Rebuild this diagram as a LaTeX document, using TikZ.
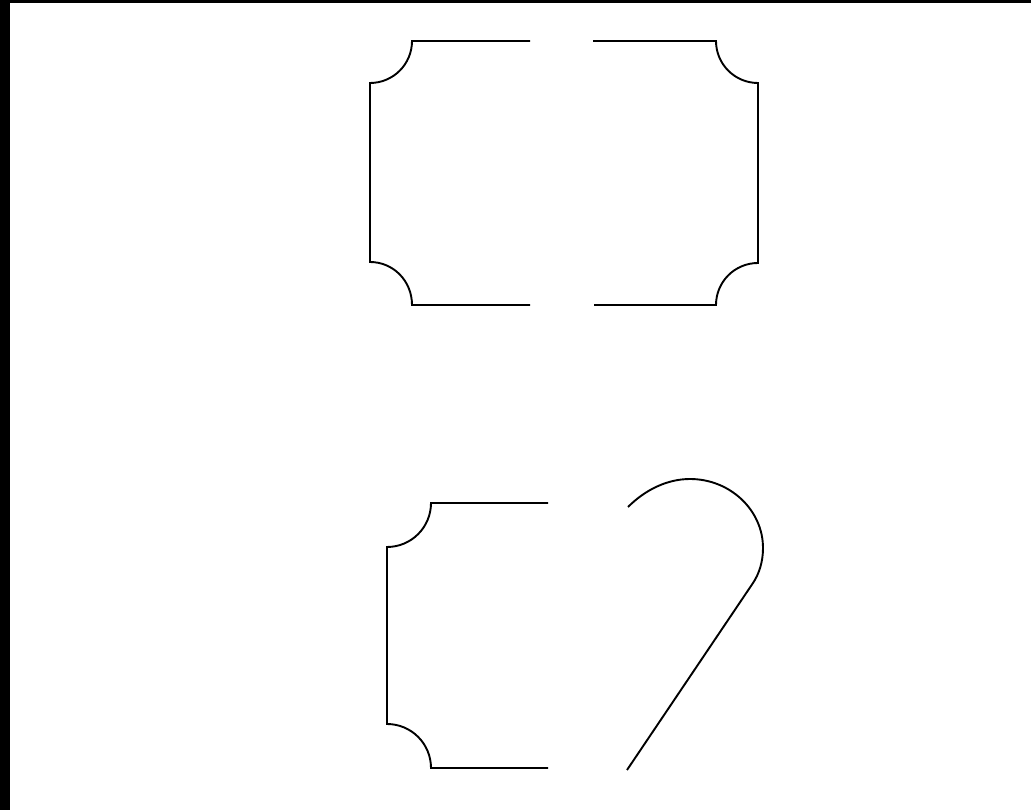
\documentclass[tikz,border=0pt]{standalone}
\begin{document}
\begin{tikzpicture}[x=0.02cm,y=-0.02cm,
  outline/.style={draw=black,line width=0.38mm,line join=miter}]
\useasboundingbox (0,0) rectangle (1031,810);
\fill[white] (0,0) rectangle (1031,810);
\fill[black] (0,0) rectangle (10,810);
\fill[black] (0,0) rectangle (1031,3);
% top frame, left half
\draw[outline] (530,41) -- (412,41) .. controls (412,64.2) and (393.2,83) .. (370,83)
  -- (370,262) .. controls (393.2,262) and (412,280.8) .. (412,305) -- (530,305);
% top frame, right half
\draw[outline] (593,41) -- (716,41) .. controls (716,64.2) and (734.8,83) .. (758,83)
  -- (758,263) .. controls (734.8,263) and (716,281.8) .. (716,305) -- (594,305);
% bottom left half frame
\draw[outline] (548,503) -- (431,503) .. controls (431,527.3) and (411.3,547) .. (387,547)
  -- (387,724) .. controls (411.3,724) and (431,743.7) .. (431,768) -- (548,768);
% hook
\draw[outline] (628,507) .. controls (645,490) and (667,479) .. (690,479)
  .. controls (730,479) and (763,510) .. (763,548)
  .. controls (763,562) and (759,574) .. (753,583) -- (627,770);
\end{tikzpicture}
\end{document}
